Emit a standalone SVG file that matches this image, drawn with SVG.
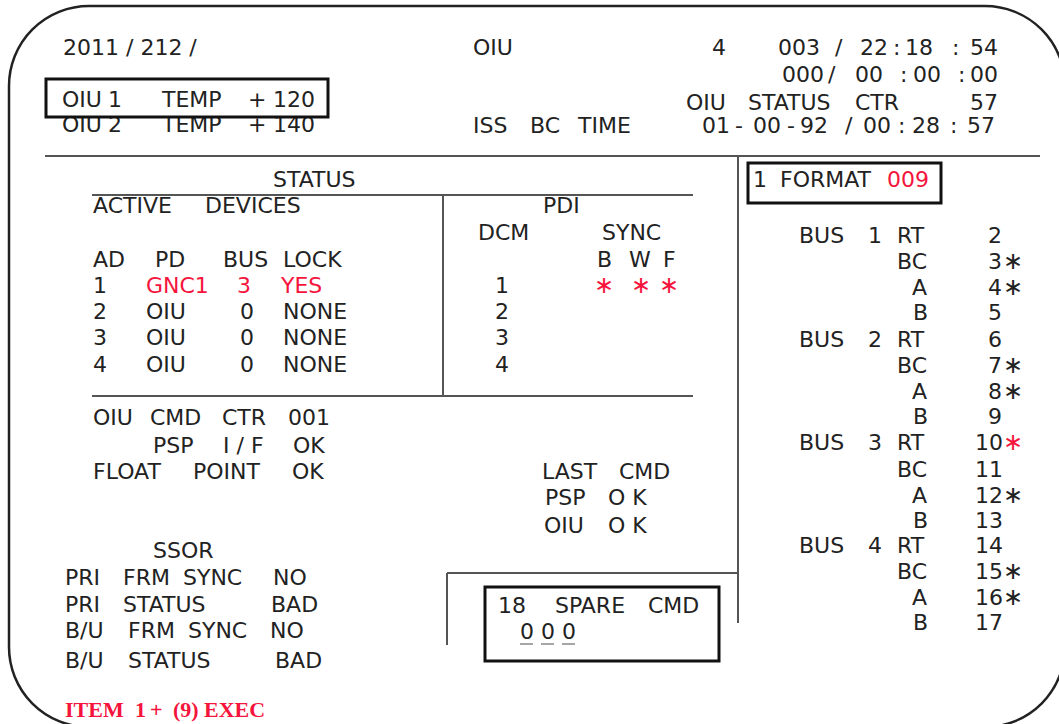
<svg xmlns="http://www.w3.org/2000/svg" width="1059" height="724" viewBox="0 0 1059 724">
<style>
  text { font-family: "DejaVu Sans", Verdana, sans-serif; font-size: 22px; fill: #222; }
  .r { fill: #f5143c; }
  .st { font-size: 24px; }
  .item { font-family: "Liberation Serif", "Times New Roman", serif; font-weight: bold; font-size: 22px; fill: #f5143c; }
  .ln { stroke: #555; stroke-width: 2; fill: none; }
  .box { stroke: #111; stroke-width: 3; fill: none; }
  .frame { stroke: #222; stroke-width: 2.5; fill: none; }
  .ul { stroke: #888; stroke-width: 1.5; }
</style>
<rect width="1059" height="724" fill="#fff"/>
<rect id="frame" class="frame" x="9" y="6" width="1056" height="721" rx="80" ry="80"/>

<g id="connectors">
  <line class="ln" x1="45" y1="156" x2="1040" y2="156"/>
  <line class="ln" x1="738" y1="156" x2="738" y2="623"/>
  <line class="ln" x1="92" y1="195" x2="693" y2="195"/>
  <line class="ln" x1="443" y1="195" x2="443" y2="396"/>
  <line class="ln" x1="92" y1="396" x2="693" y2="396"/>
  <line class="ln" x1="447" y1="573" x2="738" y2="573"/>
  <line class="ln" x1="447" y1="573" x2="447" y2="645"/>
</g>

<g id="header">
  <text x="63" y="55">2011 / 212 /</text>
  <text x="473" y="55">OIU</text>
  <text x="712" y="55">4</text>
  <text y="55"><tspan x="778">003</tspan><tspan x="835">/</tspan><tspan x="860">22</tspan><tspan x="893">:</tspan><tspan x="905">18</tspan><tspan x="952">:</tspan><tspan x="970">54</tspan></text>
  <text y="82"><tspan x="782">000</tspan><tspan x="828">/</tspan><tspan x="855">00</tspan><tspan x="900">:</tspan><tspan x="913">00</tspan><tspan x="958">:</tspan><tspan x="970">00</tspan></text>
  <text y="110"><tspan x="686">OIU</tspan><tspan x="748">STATUS</tspan><tspan x="855">CTR</tspan><tspan x="970">57</tspan></text>
  <text y="133"><tspan x="473">ISS</tspan><tspan x="530">BC</tspan><tspan x="578">TIME</tspan></text>
  <text y="133"><tspan x="702">01</tspan><tspan x="735">-</tspan><tspan x="753">00</tspan><tspan x="787">-</tspan><tspan x="800">92</tspan><tspan x="845">/</tspan><tspan x="863">00</tspan><tspan x="898">:</tspan><tspan x="912">28</tspan><tspan x="950">:</tspan><tspan x="967">57</tspan></text>
</g>

<g id="temp">
  <text y="107"><tspan x="62">OIU</tspan><tspan x="108">1</tspan><tspan x="162">TEMP</tspan><tspan x="248">+</tspan><tspan x="273">120</tspan></text>
  <text y="132"><tspan x="62">OIU</tspan><tspan x="108">2</tspan><tspan x="162">TEMP</tspan><tspan x="248">+</tspan><tspan x="273">140</tspan></text>
  <rect class="box" x="46" y="79" width="282" height="38"/>
</g>

<g id="status">
  <text x="273" y="187">STATUS</text>
  <text y="213"><tspan x="93">ACTIVE</tspan><tspan x="205">DEVICES</tspan></text>
  <text y="267"><tspan x="93">AD</tspan><tspan x="155">PD</tspan><tspan x="223">BUS</tspan><tspan x="283">LOCK</tspan></text>
  <text y="293"><tspan x="93">1</tspan><tspan class="r" x="146">GNC1</tspan><tspan class="r" x="237">3</tspan><tspan class="r" x="281">YES</tspan></text>
  <text y="319"><tspan x="93">2</tspan><tspan x="146">OIU</tspan><tspan x="240">0</tspan><tspan x="283">NONE</tspan></text>
  <text y="345"><tspan x="93">3</tspan><tspan x="146">OIU</tspan><tspan x="240">0</tspan><tspan x="283">NONE</tspan></text>
  <text y="372"><tspan x="93">4</tspan><tspan x="146">OIU</tspan><tspan x="240">0</tspan><tspan x="283">NONE</tspan></text>
</g>

<g id="pdi">
  <text x="543" y="213">PDI</text>
  <text y="240"><tspan x="478">DCM</tspan><tspan x="602">SYNC</tspan></text>
  <text y="267"><tspan x="597">B</tspan><tspan x="629">W</tspan><tspan x="663">F</tspan></text>
  <text y="293"><tspan x="495">1</tspan><tspan class="r st" x="594">∗</tspan><tspan class="r st" x="631">∗</tspan><tspan class="r st" x="659">∗</tspan></text>
  <text x="495" y="319">2</text>
  <text x="495" y="345">3</text>
  <text x="495" y="372">4</text>
</g>

<g id="format">
  <text y="187"><tspan x="753">1</tspan><tspan x="780">FORMAT</tspan><tspan class="r" x="887">009</tspan></text>
  <rect class="box" x="748" y="163" width="193" height="40"/>
</g>

<g id="buses">
  <text y="243"><tspan x="799">BUS</tspan><tspan x="868">1</tspan><tspan x="897">RT</tspan><tspan x="988">2</tspan></text>
  <text y="269"><tspan x="897">BC</tspan><tspan x="988">3</tspan><tspan class="st" x="1003">∗</tspan></text>
  <text y="295"><tspan x="912">A</tspan><tspan x="988">4</tspan><tspan class="st" x="1003">∗</tspan></text>
  <text y="320"><tspan x="913">B</tspan><tspan x="988">5</tspan></text>
  <text y="347"><tspan x="799">BUS</tspan><tspan x="868">2</tspan><tspan x="897">RT</tspan><tspan x="988">6</tspan></text>
  <text y="373"><tspan x="897">BC</tspan><tspan x="988">7</tspan><tspan class="st" x="1003">∗</tspan></text>
  <text y="399"><tspan x="912">A</tspan><tspan x="988">8</tspan><tspan class="st" x="1003">∗</tspan></text>
  <text y="424"><tspan x="913">B</tspan><tspan x="988">9</tspan></text>
  <text y="450"><tspan x="799">BUS</tspan><tspan x="868">3</tspan><tspan x="897">RT</tspan><tspan x="975">10</tspan><tspan class="st r" x="1003">∗</tspan></text>
  <text y="477"><tspan x="897">BC</tspan><tspan x="975">11</tspan></text>
  <text y="503"><tspan x="912">A</tspan><tspan x="975">12</tspan><tspan class="st" x="1003">∗</tspan></text>
  <text y="528"><tspan x="913">B</tspan><tspan x="975">13</tspan></text>
  <text y="553"><tspan x="799">BUS</tspan><tspan x="868">4</tspan><tspan x="897">RT</tspan><tspan x="975">14</tspan></text>
  <text y="579"><tspan x="897">BC</tspan><tspan x="975">15</tspan><tspan class="st" x="1003">∗</tspan></text>
  <text y="605"><tspan x="912">A</tspan><tspan x="975">16</tspan><tspan class="st" x="1003">∗</tspan></text>
  <text y="630"><tspan x="913">B</tspan><tspan x="975">17</tspan></text>
</g>

<g id="oiu-cmd">
  <text y="425"><tspan x="93">OIU</tspan><tspan x="150">CMD</tspan><tspan x="222">CTR</tspan><tspan x="288">001</tspan></text>
  <text y="453"><tspan x="153">PSP</tspan><tspan x="223">I / F</tspan><tspan x="293">OK</tspan></text>
  <text y="479"><tspan x="93">FLOAT</tspan><tspan x="193">POINT</tspan><tspan x="292">OK</tspan></text>
</g>

<g id="last-cmd">
  <text y="479"><tspan x="542">LAST</tspan><tspan x="619">CMD</tspan></text>
  <text y="505"><tspan x="545">PSP</tspan><tspan x="608">O K</tspan></text>
  <text y="533"><tspan x="544">OIU</tspan><tspan x="608">O K</tspan></text>
</g>

<g id="ssor">
  <text x="153" y="558">SSOR</text>
  <text y="585"><tspan x="65">PRI</tspan><tspan x="123">FRM</tspan><tspan x="183">SYNC</tspan><tspan x="273">NO</tspan></text>
  <text y="612"><tspan x="65">PRI</tspan><tspan x="123">STATUS</tspan><tspan x="271">BAD</tspan></text>
  <text y="638"><tspan x="65">B/U</tspan><tspan x="128">FRM</tspan><tspan x="188">SYNC</tspan><tspan x="270">NO</tspan></text>
  <text y="668"><tspan x="65">B/U</tspan><tspan x="128">STATUS</tspan><tspan x="275">BAD</tspan></text>
</g>

<g id="spare">
  <text y="613"><tspan x="498">18</tspan><tspan x="555">SPARE</tspan><tspan x="648">CMD</tspan></text>
  <text y="639"><tspan x="520">0</tspan><tspan x="541">0</tspan><tspan x="562">0</tspan></text>
  <line class="ul" x1="520" y1="644" x2="533" y2="644"/>
  <line class="ul" x1="541" y1="644" x2="554" y2="644"/>
  <line class="ul" x1="562" y1="644" x2="575" y2="644"/>
  <rect class="box" x="485" y="587" width="234" height="74"/>
</g>

<g id="item">
  <text class="item" y="717"><tspan x="65">ITEM</tspan><tspan x="135">1</tspan><tspan x="150">+</tspan><tspan x="173">(9)</tspan><tspan x="204">EXEC</tspan></text>
</g>
</svg>
